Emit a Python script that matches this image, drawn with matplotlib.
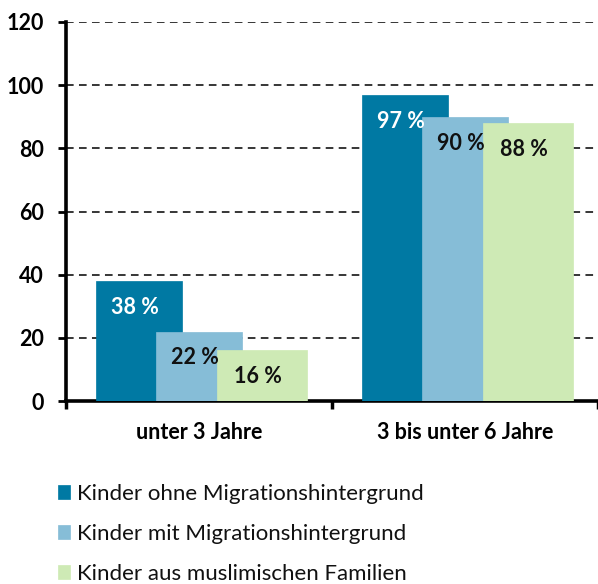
import numpy as np
import matplotlib
matplotlib.use("Agg")
import matplotlib.pyplot as plt

plt.rcParams['font.family'] = ['Lato', 'DejaVu Sans']

categories = ["unter 3 Jahre", "3 bis unter 6 Jahre"]
series_names = ["Kinder ohne Migrationshintergrund",
                "Kinder mit Migrationshintergrund",
                "Kinder aus muslimischen Familien"]
ohne_migration = [38, 97]
mit_migration = [22, 90]
muslimisch = [16, 88]
values = [ohne_migration, mit_migration, muslimisch]

colors = ["#0079A3", "#86BDD7", "#CEEAB5"]
label_colors = ["white", "#111111", "#111111"]

fig = plt.figure(figsize=(5.98, 5.84), dpi=100)
ax = fig.add_axes([66 / 598, (584 - 401) / 584, 532 / 598, 379 / 584])

x = np.arange(len(categories))
offsets = [-0.225, 0.0, 0.236]
widths = [0.322, 0.322, 0.34]

for vals, off, w, col, lc, name in zip(values, offsets, widths, colors, label_colors, series_names):
    bars = ax.bar(x + off, vals, width=w, color=col, label=name, zorder=3,
                  edgecolor=col, linewidth=0.5)
    for b, v in zip(bars, vals):
        ax.annotate(f"{v} %", (b.get_x() + b.get_width() / 2, v),
                    xytext=(-3, -19), textcoords="offset points",
                    ha="center", va="center", fontsize=15.5, fontweight="bold",
                    color=lc, zorder=4)

ax.set_ylim(0, 120)
ax.set_xlim(-0.5, 1.4925)
ax.set_yticks(np.arange(0, 121, 20))
ax.yaxis.grid(True, color="black", linestyle=(0, (5, 3.5)), linewidth=1.1, zorder=1)
ax.set_axisbelow(True)

ax.set_xticks([-0.5, 0.5, 1.5])
ax.set_xticklabels([])
ax.set_xticks(x, minor=True)
ax.set_xticklabels(categories, minor=True, fontsize=15.5, fontweight="bold")
ax.tick_params(axis="x", which="minor", length=0, pad=15)
ax.tick_params(axis="x", which="major", direction="out", length=6, width=2.5)
ax.tick_params(axis="y", direction="out", length=6, width=2, pad=10,
               labelsize=15.5)
for lab in ax.get_yticklabels():
    lab.set_fontweight("bold")

ax.spines["top"].set_visible(False)
ax.spines["right"].set_visible(False)
ax.spines["left"].set_linewidth(2.6)
ax.spines["bottom"].set_linewidth(2.6)

handles, labels = ax.get_legend_handles_labels()
fig.legend(handles, labels, loc="upper left", bbox_to_anchor=(58 / 598, 1 - 484 / 584),
           frameon=False, fontsize=16, handlelength=0.55, handleheight=0.55,
           handletextpad=0.3, labelspacing=0.9, borderaxespad=0, borderpad=0,
           labelcolor="#111111")

fig.savefig("out.png", dpi=100)
